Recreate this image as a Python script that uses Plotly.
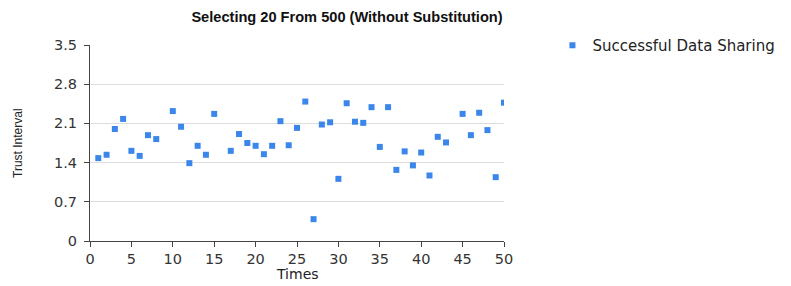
import plotly.graph_objects as go

times = [1, 2, 3, 4, 5, 6, 7, 8, 10, 11, 12, 13, 14, 15, 17, 18, 19, 20, 21, 22, 23, 24, 25,
         26, 27, 28, 29, 30, 31, 32, 33, 34, 35, 36, 37, 38, 39, 40, 41, 42, 43, 45, 46, 47, 48, 49, 50]
trust = [1.48, 1.54, 2.00, 2.18, 1.61, 1.52, 1.89, 1.82, 2.32, 2.04, 1.39, 1.70, 1.54, 2.27,
         1.61, 1.91, 1.75, 1.70, 1.55, 1.70, 2.14, 1.71, 2.02,
         2.49, 0.39, 2.08, 2.12, 1.11, 2.46, 2.13, 2.11, 2.39, 1.68, 2.39, 1.27, 1.60, 1.35, 1.58,
         1.17, 1.86, 1.76, 2.27, 1.89, 2.29, 1.98, 1.14, 2.47]
y_ticks = [0, 0.7, 1.4, 2.1, 2.8, 3.5]
y_labels = ["0", "0.7", "1.4", "2.1", "2.8", "3.5"]
x_ticks = [0, 5, 10, 15, 20, 25, 30, 35, 40, 45, 50]

W, H = 783, 278  # page body adds an 8px offset in the 791x286 window

fig = go.Figure()
fig.add_trace(go.Scatter(
    x=times, y=trust, mode="markers", name="Successful Data Sharing",
    marker=dict(symbol="square", size=6, color="#3b86ea"),
))

tick_font = dict(family="DejaVu Sans", size=14.5, color="#333333")

fig.update_layout(
    width=W, height=H,
    margin=dict(l=82, r=287, t=37, b=45, autoexpand=False),
    paper_bgcolor="white", plot_bgcolor="white",
    font=dict(family="DejaVu Sans", color="#333333"),
    title=dict(text="<b>Selecting 20 From 500 (Without Substitution)</b>",
               xref="container", x=339 / W, xanchor="center",
               yref="container", y=1 - 9 / H, yanchor="middle",
               font=dict(family="Liberation Sans, Arial", size=14.6, color="#111111")),
    showlegend=True,
    legend=dict(x=1.117, y=1.081, xanchor="left", yanchor="top",
                font=dict(family="DejaVu Sans", size=15, color="#222222"), itemwidth=30,
                bgcolor="rgba(0,0,0,0)"),
    xaxis=dict(range=[0, 50], tickvals=x_ticks, showgrid=False, automargin=False,
               showline=True, linecolor="#444444", linewidth=1,
               ticks="outside", ticklen=5, tickcolor="#444444",
               tickfont=tick_font, zeroline=False),
    yaxis=dict(range=[0, 3.5], tickvals=y_ticks, ticktext=y_labels, automargin=False,
               showgrid=True, gridcolor="#dddddd", gridwidth=1,
               showline=True, linecolor="#444444", linewidth=1,
               ticks="outside", ticklen=5, tickcolor="#444444", ticklabelstandoff=4,
               tickfont=tick_font, zeroline=False),
    annotations=[
        dict(text="Times", xref="paper", yref="paper", x=0.5, y=0, xanchor="center",
             yanchor="middle", yshift=-33, showarrow=False,
             font=dict(family="DejaVu Sans", size=14, color="#222222")),
        dict(text="Trust Interval", xref="paper", yref="paper", x=0, y=0.5, xanchor="center",
             yanchor="middle", xshift=-72, textangle=-90, showarrow=False,
             font=dict(family="Liberation Sans Narrow, Liberation Sans", size=12, color="#222222")),
    ],
)

fig.write_html("out.html")
